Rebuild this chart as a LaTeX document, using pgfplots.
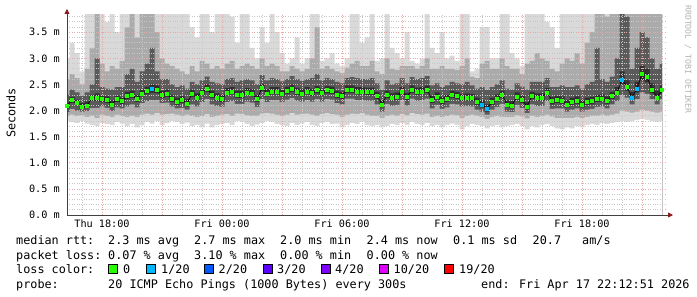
\documentclass[border=0pt]{standalone}
\usepackage{fontspec}
\setmainfont{DejaVu Sans Mono}
\usepackage{pgfplots}
\usepackage{pgfplotstable}
\pgfplotsset{compat=1.18}
\usetikzlibrary{arrows.meta}
\definecolor{smokeA}{HTML}{D9D9D9}
\definecolor{smokeB}{HTML}{ABABAB}
\definecolor{smokeC}{HTML}{5A5A5A}
\definecolor{smokeD}{HTML}{303030}
\definecolor{lossA}{HTML}{26FF00}
\definecolor{lossB}{HTML}{00B8FF}
\definecolor{lossC}{HTML}{0059FF}
\definecolor{lossD}{HTML}{5E00FF}
\definecolor{lossE}{HTML}{7E00FF}
\definecolor{lossF}{HTML}{DD00FF}
\definecolor{lossG}{HTML}{FF0000}
\definecolor{majgrid}{HTML}{E8A8A8}
\definecolor{mingrid}{HTML}{C8C8C8}
\definecolor{arrowred}{HTML}{8B1A1A}
\newcommand\legfont{\fontsize{11.8bp}{13bp}\selectfont}
\newcommand\axfont{\fontsize{10.2bp}{12bp}\selectfont}

\pgfplotstableread{
t m mn p10 p25 p40 p60 p75 p90 mx
16.25 2.09 1.80 1.90 1.97 2.04 2.15 2.30 2.60 3.00
16.50 2.20 1.78 1.92 2.03 2.14 2.26 2.40 2.70 3.30
16.75 2.15 1.76 1.90 2.00 2.10 2.21 2.35 2.62 3.10
17.00 2.07 1.80 1.91 1.98 2.03 2.14 2.28 2.50 2.75
17.25 2.10 1.75 1.88 1.99 2.05 2.17 2.35 2.80 4.20
17.50 2.24 1.72 1.90 2.05 2.18 2.30 2.50 3.20 4.20
17.75 2.25 1.70 1.86 2.05 2.18 2.33 3.00 4.20 4.20
18.00 2.22 1.76 1.92 2.08 2.16 2.28 2.45 2.90 4.20
18.25 2.20 1.74 1.90 2.05 2.14 2.27 2.42 2.75 3.70
18.50 2.12 1.72 1.88 1.99 2.07 2.20 2.40 2.85 4.20
18.75 2.22 1.78 1.92 2.06 2.16 2.28 2.45 2.80 3.50
19.00 2.18 1.75 1.90 2.04 2.12 2.25 2.45 2.95 4.20
19.25 2.28 1.70 1.88 2.08 2.21 2.36 2.70 3.60 4.20
19.50 2.30 1.74 1.90 2.12 2.24 2.38 2.80 4.20 4.20
19.75 2.22 1.68 1.88 2.06 2.16 2.30 2.55 3.40 4.20
20.00 2.33 1.72 1.92 2.14 2.27 2.41 2.75 4.20 4.20
20.25 2.38 1.78 1.94 2.18 2.31 2.46 2.90 4.20 4.20
20.50 2.42 1.75 1.92 2.20 2.34 2.50 3.20 4.20 4.20
20.75 2.40 1.80 1.95 2.20 2.33 2.48 2.75 3.50 4.20
21.00 2.30 1.72 1.92 2.14 2.24 2.38 2.60 3.00 4.20
21.25 2.32 1.76 1.93 2.15 2.26 2.40 2.60 2.90 4.20
21.50 2.22 1.80 1.94 2.08 2.16 2.30 2.50 2.85 4.20
21.75 2.17 1.78 1.92 2.04 2.11 2.25 2.45 2.80 4.20
22.00 2.20 1.74 1.90 2.05 2.14 2.28 2.48 2.75 4.20
22.25 2.14 1.77 1.92 2.02 2.08 2.22 2.42 2.70 4.20
22.50 2.32 1.70 1.90 2.12 2.26 2.40 2.55 2.85 3.60
22.75 2.25 1.72 1.88 2.08 2.19 2.33 2.50 2.75 3.40
23.00 2.35 1.68 1.90 2.16 2.29 2.42 2.58 2.95 4.20
23.25 2.42 1.75 1.93 2.22 2.36 2.50 2.65 2.90 4.20
23.50 2.30 1.68 1.88 2.12 2.24 2.38 2.55 2.80 3.50
23.75 2.25 1.72 1.90 2.09 2.19 2.33 2.52 2.85 4.20
24.00 2.22 1.74 1.92 2.07 2.16 2.30 2.50 2.80 4.20
24.25 2.35 1.76 1.93 2.16 2.29 2.43 2.60 2.90 4.20
24.50 2.37 1.72 1.90 2.18 2.31 2.45 2.62 2.95 3.80
24.75 2.30 1.80 1.94 2.13 2.24 2.38 2.55 2.80 3.30
25.00 2.30 1.78 1.93 2.13 2.24 2.38 2.58 2.85 4.20
25.25 2.35 1.74 1.91 2.17 2.29 2.43 2.60 2.90 4.20
25.50 2.33 1.70 1.90 2.15 2.27 2.41 2.58 2.85 3.20
25.75 2.22 1.73 1.90 2.07 2.16 2.30 2.50 2.80 3.00
26.00 2.43 1.76 1.94 2.22 2.37 2.51 2.68 3.00 3.60
26.25 2.33 1.80 1.95 2.16 2.27 2.41 2.58 2.85 3.30
26.50 2.37 1.78 1.94 2.20 2.31 2.45 2.62 2.90 4.20
26.75 2.37 1.74 1.92 2.20 2.31 2.45 2.60 2.85 3.50
27.00 2.33 1.72 1.90 2.16 2.27 2.41 2.56 2.75 3.10
27.25 2.38 1.70 1.92 2.21 2.32 2.46 2.60 2.75 2.90
27.50 2.42 1.76 1.95 2.24 2.36 2.50 2.66 2.85 3.00
27.75 2.36 1.72 1.92 2.19 2.30 2.44 2.60 2.80 3.40
28.00 2.33 1.75 1.93 2.17 2.27 2.41 2.57 2.75 2.90
28.25 2.37 1.78 1.94 2.20 2.31 2.45 2.60 2.80 3.00
28.50 2.34 1.72 1.92 2.17 2.28 2.42 2.62 3.00 4.20
28.75 2.39 1.70 1.90 2.22 2.33 2.47 2.70 3.60 4.20
29.00 2.34 1.76 1.93 2.17 2.28 2.42 2.58 2.80 2.95
29.25 2.39 1.78 1.95 2.22 2.33 2.47 2.62 2.85 3.00
29.50 2.38 1.74 1.93 2.21 2.32 2.46 2.60 2.80 3.10
29.75 2.30 1.75 1.92 2.14 2.24 2.38 2.55 2.75 2.90
30.00 2.28 1.68 1.88 2.12 2.22 2.36 2.52 2.72 2.85
30.25 2.40 1.72 1.92 2.23 2.34 2.48 2.62 2.82 3.00
30.50 2.40 1.76 1.94 2.23 2.34 2.48 2.64 2.90 4.20
30.75 2.37 1.74 1.93 2.20 2.31 2.45 2.62 2.95 4.20
31.00 2.37 1.78 1.95 2.20 2.31 2.45 2.60 2.85 3.30
31.25 2.36 1.72 1.92 2.19 2.30 2.44 2.60 2.85 3.40
31.50 2.36 1.70 1.90 2.19 2.30 2.44 2.62 2.95 4.20
31.75 2.28 1.72 1.90 2.12 2.22 2.36 2.52 2.75 2.95
32.00 2.12 1.68 1.86 1.98 2.06 2.20 2.40 2.70 3.00
32.25 2.30 1.70 1.90 2.13 2.24 2.38 2.58 3.00 4.20
32.50 2.25 1.74 1.92 2.09 2.19 2.33 2.50 2.80 3.20
32.75 2.27 1.72 1.90 2.11 2.21 2.35 2.52 2.78 3.10
33.00 2.37 1.76 1.93 2.20 2.31 2.45 2.62 2.85 3.00
33.25 2.26 1.72 1.91 2.10 2.20 2.34 2.52 2.85 3.50
33.50 2.40 1.78 1.95 2.23 2.34 2.48 2.64 2.85 2.95
33.75 2.36 1.74 1.93 2.19 2.30 2.44 2.60 2.80 2.90
34.00 2.37 1.72 1.92 2.20 2.31 2.45 2.62 2.85 3.00
34.25 2.40 1.76 1.94 2.23 2.34 2.48 2.66 3.00 4.20
34.50 2.20 1.70 1.88 2.04 2.14 2.28 2.48 2.80 3.20
34.75 2.27 1.72 1.90 2.11 2.21 2.35 2.52 2.80 3.10
35.00 2.18 1.68 1.88 2.03 2.12 2.26 2.45 2.85 3.50
35.25 2.22 1.72 1.90 2.06 2.16 2.30 2.48 2.80 3.00
35.50 2.30 1.75 1.92 2.13 2.24 2.38 2.55 2.80 3.05
35.75 2.28 1.72 1.91 2.12 2.22 2.36 2.52 2.78 2.95
36.00 2.24 1.64 1.86 2.08 2.18 2.32 2.50 2.85 4.20
36.25 2.25 1.70 1.90 2.09 2.19 2.33 2.55 3.00 4.20
36.50 2.24 1.74 1.92 2.08 2.18 2.32 2.48 2.65 2.75
36.75 2.17 1.72 1.90 2.02 2.11 2.25 2.42 2.62 2.80
37.00 2.12 1.70 1.88 1.98 2.06 2.20 2.45 2.90 3.60
37.25 2.03 1.66 1.84 1.92 1.98 2.12 2.40 2.95 3.60
37.50 2.17 1.70 1.88 2.02 2.11 2.25 2.45 2.80 3.00
37.75 2.23 1.72 1.90 2.07 2.17 2.31 2.50 2.80 3.00
38.00 2.30 1.68 1.88 2.13 2.24 2.38 2.58 3.00 4.20
38.25 2.12 1.70 1.88 1.98 2.06 2.20 2.42 2.85 4.20
38.50 2.10 1.72 1.88 1.97 2.04 2.18 2.40 2.80 3.10
38.75 2.27 1.74 1.91 2.11 2.21 2.35 2.52 2.80 3.00
39.00 2.20 1.70 1.89 2.05 2.14 2.28 2.46 2.70 2.85
39.25 2.08 1.64 1.85 1.95 2.02 2.16 2.40 2.90 4.20
39.50 2.28 1.70 1.90 2.12 2.22 2.36 2.55 2.95 4.20
39.75 2.25 1.68 1.88 2.09 2.19 2.33 2.55 3.10 4.20
40.00 2.25 1.72 1.90 2.09 2.19 2.33 2.55 3.00 4.20
40.25 2.35 1.74 1.92 2.18 2.29 2.43 2.62 2.95 3.70
40.50 2.18 1.70 1.89 2.03 2.12 2.26 2.45 2.80 3.60
40.75 2.20 1.66 1.86 2.04 2.14 2.28 2.45 2.75 3.20
41.00 2.19 1.64 1.86 2.04 2.13 2.27 2.48 2.90 4.20
41.25 2.12 1.68 1.86 1.98 2.06 2.20 2.45 3.00 4.20
41.50 2.17 1.66 1.86 2.02 2.11 2.25 2.45 2.95 4.20
41.75 2.19 1.70 1.88 2.04 2.13 2.27 2.48 3.10 4.20
42.00 2.12 1.68 1.86 1.98 2.06 2.20 2.42 2.90 4.20
42.25 2.17 1.72 1.88 2.02 2.11 2.25 2.50 3.30 4.20
42.50 2.18 1.74 1.90 2.03 2.12 2.26 2.55 3.50 4.20
42.75 2.22 1.72 1.90 2.07 2.16 2.30 3.20 4.20 4.20
43.00 2.23 1.76 1.92 2.08 2.17 2.31 2.60 4.20 4.20
43.25 2.19 1.74 1.90 2.04 2.13 2.27 2.55 3.80 4.20
43.50 2.28 1.76 1.92 2.12 2.22 2.36 2.65 4.20 4.20
43.75 2.35 1.78 1.94 2.18 2.29 2.45 3.00 4.20 4.20
44.00 2.60 1.80 2.00 2.30 2.50 2.75 4.20 4.20 4.20
44.25 2.45 1.78 1.98 2.25 2.38 2.58 3.80 4.20 4.20
44.50 2.25 1.80 1.96 2.12 2.20 2.36 2.80 4.20 4.20
44.75 2.42 1.82 1.98 2.22 2.35 2.55 3.20 4.20 4.20
45.00 2.70 1.84 2.02 2.35 2.58 2.85 3.50 4.20 4.20
45.25 2.65 1.82 2.00 2.32 2.54 2.80 3.40 4.20 4.20
45.50 2.40 1.80 1.98 2.22 2.33 2.52 3.00 4.20 4.20
45.75 2.25 1.78 1.96 2.12 2.20 2.38 2.80 4.20 4.20
46.00 2.39 1.80 1.98 2.22 2.32 2.48 2.90 4.20 4.20
}\data

\pgfplotstableread{
t m
20.50 2.42
37.00 2.12
37.25 2.03
44.00 2.60
44.50 2.25
44.75 2.42
}\lossone

\pgfplotsset{rrdframe/.style={
  at={(67bp,82bp)}, anchor=south west,
  scale only axis, width=600bp, height=200bp,
  xmin=16.25, xmax=46.25, ymin=0, ymax=3.83}}

\begin{document}
\begin{tikzpicture}
\path[use as bounding box] (0,0) rectangle (697bp,297bp);
% smoke (drawn first, below the grid)
\begin{axis}[rrdframe, hide axis]
\addplot[const plot mark mid, fill=smokeA, draw=none] table[x=t,y=mx]{\data} \closedcycle;
\addplot[const plot mark mid, fill=smokeB, draw=none] table[x=t,y=p90]{\data} \closedcycle;
\addplot[const plot mark mid, fill=smokeC, draw=none] table[x=t,y=p75]{\data} \closedcycle;
\addplot[const plot mark mid, fill=smokeD, draw=none] table[x=t,y=p60]{\data} \closedcycle;
\addplot[const plot mark mid, fill=smokeC, draw=none] table[x=t,y=p40]{\data} \closedcycle;
\addplot[const plot mark mid, fill=smokeB, draw=none] table[x=t,y=p25]{\data} \closedcycle;
\addplot[const plot mark mid, fill=smokeA, draw=none] table[x=t,y=p10]{\data} \closedcycle;
\addplot[const plot mark mid, fill=white, draw=none] table[x=t,y=mn]{\data} \closedcycle;
\end{axis}
% grid, axes and median
\begin{axis}[rrdframe,
  axis x line=bottom, axis y line=left,
  x axis line style={draw=black!75, line width=0.8bp, shorten >=-6bp,
     -{Triangle[length=5bp,width=5bp,color=arrowred,fill=arrowred]}},
  y axis line style={draw=black!75, line width=0.8bp, shorten >=-6bp,
     -{Triangle[length=5bp,width=5bp,color=arrowred,fill=arrowred]}},
  xtick={18,21,24,27,30,33,36,39,42,45},
  xticklabels={Thu 18:00,,Fri 00:00,,Fri 06:00,,Fri 12:00,,Fri 18:00,},
  ytick={0,0.5,1,1.5,2,2.5,3,3.5},
  yticklabels={0.0 m,0.5 m,1.0 m,1.5 m,2.0 m,2.5 m,3.0 m,3.5 m},
  minor xtick={17,19,20,22,23,25,26,28,29,31,32,34,35,37,38,40,41,43,44,46},
  minor ytick={0.1,0.2,0.3,0.4,0.6,0.7,0.8,0.9,1.1,1.2,1.3,1.4,1.6,1.7,1.8,1.9,2.1,2.2,2.3,2.4,2.6,2.7,2.8,2.9,3.1,3.2,3.3,3.4,3.6,3.7,3.8},
  grid=both,
  major grid style={draw=majgrid, line width=0.7bp, dash pattern=on 0.8bp off 1.6bp},
  minor grid style={draw=mingrid, line width=0.7bp, dash pattern=on 0.8bp off 1.6bp},
  major tick length=0pt, minor tick length=0pt,
  xticklabel style={font=\axfont, anchor=north, inner sep=0pt, yshift=-5bp},
  yticklabel style={font=\axfont, anchor=east, inner sep=0pt, xshift=-7bp},
]
\addplot[black, line width=0.6bp, mark=none] table[x=t,y=m]{\data};
\addplot[lossA, only marks, mark=square*, mark size=1.5bp,
  mark options={solid, fill=lossA, draw=lossA}] table[x=t,y=m]{\data};
\addplot[lossB, only marks, mark=square*, mark size=1.5bp,
  mark options={solid, fill=lossB, draw=lossB}] table[x=t,y=m]{\lossone};
\end{axis}
% labels and legend
\node[rotate=90, font=\legfont, inner sep=0pt] at (11bp,184bp) {Seconds};
\node[rotate=-90, anchor=west, inner sep=0pt, font=\fontsize{8.2bp}{9bp}\selectfont, text=black!30] at (688bp,292bp) {RRDTOOL / TOBI OETIKER};
\begin{scope}[every node/.style={anchor=base west, inner sep=0pt, font=\legfont}]
\node at (16bp,52bp) {median rtt:};
\node at (108bp,52bp) {2.3 ms avg};
\node at (194bp,52bp) {2.7 ms max};
\node at (280bp,52bp) {2.0 ms min};
\node at (366.5bp,52bp) {2.4 ms now};
\node at (453bp,52bp) {0.1 ms sd};
\node at (532.5bp,52bp) {20.7};
\node at (582bp,52bp) {am/s};
\node at (16bp,38bp) {packet loss:};
\node at (108bp,38bp) {0.07 \% avg};
\node at (194bp,38bp) {3.10 \% max};
\node at (280bp,38bp) {0.00 \% min};
\node at (366.5bp,38bp) {0.00 \% now};
\node at (16bp,24bp) {loss color:};
\node at (123bp,24bp) {0};
\node at (161bp,24bp) {1/20};
\node at (218.5bp,24bp) {2/20};
\node at (277bp,24bp) {3/20};
\node at (335bp,24bp) {4/20};
\node at (393.5bp,24bp) {10/20};
\node at (459bp,24bp) {19/20};
\node at (16bp,9bp) {probe:};
\node at (108bp,9bp) {20 ICMP Echo Pings (1000 Bytes) every 300s};
\node at (481bp,9bp) {end: Fri Apr 17 22:12:51 2026};
\end{scope}
\foreach \bx/\c in {108/lossA, 146/lossB, 204.5/lossC, 263/lossD, 321/lossE, 379.5/lossF, 444/lossG}{
  \draw[fill=\c, draw=black, line width=0.8bp] (\bx bp,23.5bp) rectangle ++(9bp,9bp);
}
\end{tikzpicture}
\end{document}
